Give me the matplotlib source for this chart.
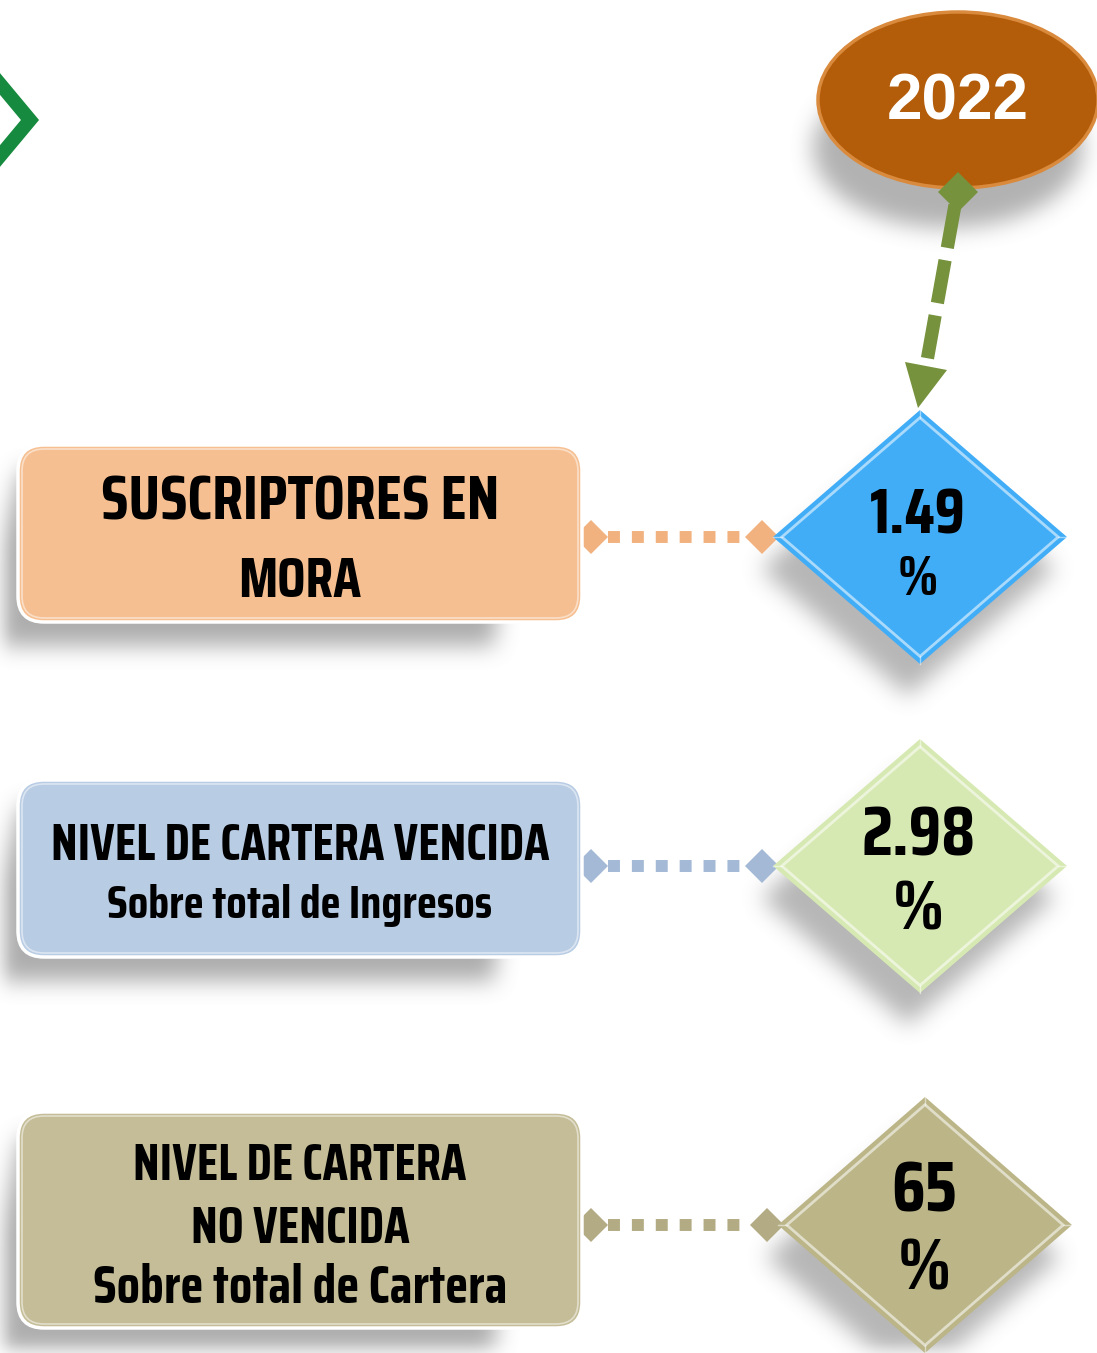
import numpy as np
import matplotlib
matplotlib.use("Agg")
import matplotlib.pyplot as plt
from matplotlib.patches import FancyBboxPatch, Polygon, Ellipse
from matplotlib.path import Path
from matplotlib.textpath import TextPath
from matplotlib import font_manager as fm

# ---- data ----
year = "2022"
box_lines = [["SUSCRIPTORES EN", "MORA"],
             ["NIVEL DE CARTERA VENCIDA", "Sobre total de Ingresos"],
             ["NIVEL DE CARTERA", "NO VENCIDA", "Sobre total de Cartera"]]
values = ["1.49", "2.98", "65"]
box_colors = ["#f6bf91", "#b8cce4", "#c4bd97"]
diamond_colors = ["#41adf7", "#d7e9b3", "#bbb588"]
connector_colors = ["#f2b27f", "#a3b9d6", "#b3ab83"]

# ---- fonts: pick a condensed bold face ----
prefs = ["Saira Extra Condensed", "Saira Condensed", "Teko", "Barlow Condensed",
         "Roboto Condensed", "Oswald", "Antonio", "Fjalla One"]
cond_fp = None
for nm in prefs:
    cands = [f for f in fm.fontManager.ttflist if f.name == nm]
    if not cands:
        continue
    cands.sort(key=lambda f: (abs(int(f.weight) - 700) if str(f.weight).isdigit() else 300,
                              "italic" in f.fname.lower()))
    cond_fp = fm.FontProperties(fname=cands[0].fname)
    break
if cond_fp is None:
    cond_fp = fm.FontProperties(family="DejaVu Sans", weight="bold", stretch="condensed")

cap_ratio = TextPath((0, 0), "H", size=100, prop=cond_fp).get_extents().height / 100

W, H = 1097, 1353
fig = plt.figure(figsize=(W / 100, H / 100), dpi=100)
ax = fig.add_axes([0, 0, 1, 1])
ax.set_xlim(0, W)
ax.set_ylim(H, 0)
ax.axis("off")

# layout
box_y = [(445, 622), (780, 957), (1112, 1328)]
box_x = (18, 582)
dia = [(920, 537, 147, 127), (920, 866, 147, 127), (925, 1225, 147, 128)]

# ---- blurred shadows ----
yy, xx = np.mgrid[0:H, 0:W]
pts = np.column_stack([xx.ravel() + 0.5, yy.ravel() + 0.5])
mask = np.zeros(H * W)

def add_poly(verts, dx, dy, strength=1.0):
    global mask
    v = np.array(verts) + np.array([dx, dy])
    m = Path(v).contains_points(pts)
    mask = np.maximum(mask, m * strength)

for (y0, y1) in box_y:
    add_poly([(box_x[0] + 10, y0 + 25), (box_x[1] - 60, y0 + 25), (box_x[1] - 80, y1 + 24),
              (box_x[0] - 35, y1 + 24)], -8, 0, 0.85)
for (cx, cy, hw, hh) in dia:
    add_poly([(cx - hw, cy), (cx, cy - hh), (cx + hw, cy), (cx, cy + hh)], -12, 32, 0.75)
t = np.linspace(0, 2 * np.pi, 100)
add_poly(np.column_stack([958 + 135 * np.cos(t), 110 + 80 * np.sin(t)]), -10, 38, 0.8)
mask = mask.reshape(H, W)

def blur(a, r):
    k = np.ones(2 * r + 1) / (2 * r + 1)
    for _ in range(3):
        a = np.apply_along_axis(lambda m: np.convolve(m, k, mode="same"), 0, a)
        a = np.apply_along_axis(lambda m: np.convolve(m, k, mode="same"), 1, a)
    return a

mask = blur(mask, 10)
rgba = np.zeros((H, W, 4))
rgba[..., :3] = 0.5
rgba[..., 3] = np.clip(mask * 0.75, 0, 1)
ax.imshow(rgba, extent=(0, W, H, 0), zorder=0, interpolation="bilinear")

PX_PER_PT = 100 / 72

def fit_text(x, y, s, width, height, wtol=1.0):
    """Text centred at x with baseline y, sized by cap height, limited by ink width."""
    fs_h = height / (cap_ratio * PX_PER_PT)
    ink_w = TextPath((0, 0), s, size=100, prop=cond_fp).get_extents().width / 100
    fs_w = width * wtol / (ink_w * PX_PER_PT)
    return ax.text(x, y, s, ha="center", va="baseline", fontproperties=cond_fp,
                   fontsize=min(fs_h, fs_w), zorder=6, color="black")

# ---- chevron top-left ----
ax.plot([-5, 30, -5], [78, 120, 162], color="#168a3e", lw=10, solid_joinstyle="miter", zorder=2)

# ---- year ellipse ----
ax.add_patch(Ellipse((958, 100), 280, 176, facecolor="#b35c09", edgecolor="#d98a3c", lw=2.5, zorder=3))
ax.text(958, 102, year, ha="center", va="center", color="white", fontsize=46,
        fontweight="bold", family="Liberation Sans", zorder=4)

# ---- green dashed arrow ----
ax.plot([955, 925], [205, 372], color="#76923c", lw=9.5, dashes=(3.3, 0.95), zorder=3)
ax.add_patch(Polygon([(958, 172), (978, 192), (958, 212), (938, 192)], closed=True,
                     facecolor="#76923c", edgecolor="none", zorder=4))
ax.add_patch(Polygon([(905, 362), (947, 370), (918, 408)], closed=True,
                     facecolor="#76923c", edgecolor="none", zorder=4))

# ---- boxes, connectors, diamonds ----
for i in range(3):
    y0, y1 = box_y[i]
    ax.add_patch(FancyBboxPatch((box_x[0], y0), box_x[1] - box_x[0], y1 - y0,
                                boxstyle="round,pad=0,rounding_size=26",
                                facecolor=box_colors[i], edgecolor="white", lw=2.5, zorder=3))
    ax.add_patch(FancyBboxPatch((box_x[0] + 4, y0 + 4), box_x[1] - box_x[0] - 8, y1 - y0 - 8,
                                boxstyle="round,pad=0,rounding_size=22",
                                facecolor="none", edgecolor="white", lw=1.2, alpha=0.5, zorder=3))

    cx, dcy, hw, hh = dia[i]
    lx = cx - hw
    cc = connector_colors[i]
    ax.plot([608, lx - 30], [dcy, dcy], color=cc, lw=8.6, dashes=(1.0, 1.0), zorder=2)
    ax.add_patch(Polygon([(box_x[1] - 8, dcy), (box_x[1] + 9, dcy - 17), (box_x[1] + 26, dcy),
                          (box_x[1] + 9, dcy + 17)], closed=True, facecolor=cc,
                         edgecolor="none", zorder=2))
    ax.add_patch(Polygon([(lx - 28, dcy), (lx - 11, dcy - 17), (lx + 6, dcy), (lx - 11, dcy + 17)],
                         closed=True, facecolor=cc, edgecolor="none", zorder=2))

    dv = [(cx - hw, dcy), (cx, dcy - hh), (cx + hw, dcy), (cx, dcy + hh)]
    ax.add_patch(Polygon(dv, closed=True, facecolor=diamond_colors[i], edgecolor="none", zorder=4))
    s = 0.94
    iv = [(cx + (x - cx) * s, dcy + (y - dcy) * s) for x, y in dv]
    ax.add_patch(Polygon(iv, closed=True, facecolor="none", edgecolor="white", lw=2,
                         alpha=0.55, zorder=5))
    for (x, y), (u, v) in zip(dv, iv):
        ax.plot([x, u], [y, v], color="white", lw=1, alpha=0.5, zorder=5)

# diamond texts (centre x, baseline y, ink width, cap height)
fit_text(918, 533, values[0], 84, 48, 1.1)
fit_text(918, 595, "%", 31, 38, 1.3)
fit_text(918, 855, values[1], 99, 50, 1.1)
fit_text(918, 930, "%", 40, 48, 1.3)
fit_text(924, 1212, values[2], 54, 49, 1.15)
fit_text(924, 1290, "%", 40, 50, 1.3)

# box texts
bx_c = 300
fit_text(bx_c, 520, box_lines[0][0], 394, 50)
fit_text(bx_c, 597, box_lines[0][1], 120, 50)
fit_text(bx_c, 860, box_lines[1][0], 496, 42)
fit_text(bx_c, 918, box_lines[1][1], 383, 40)
fit_text(bx_c, 1180, box_lines[2][0], 331, 43)
fit_text(bx_c, 1243, box_lines[2][1], 216, 43)
fit_text(bx_c, 1303, box_lines[2][2], 410, 44)

fig.savefig("out.png", dpi=100)
